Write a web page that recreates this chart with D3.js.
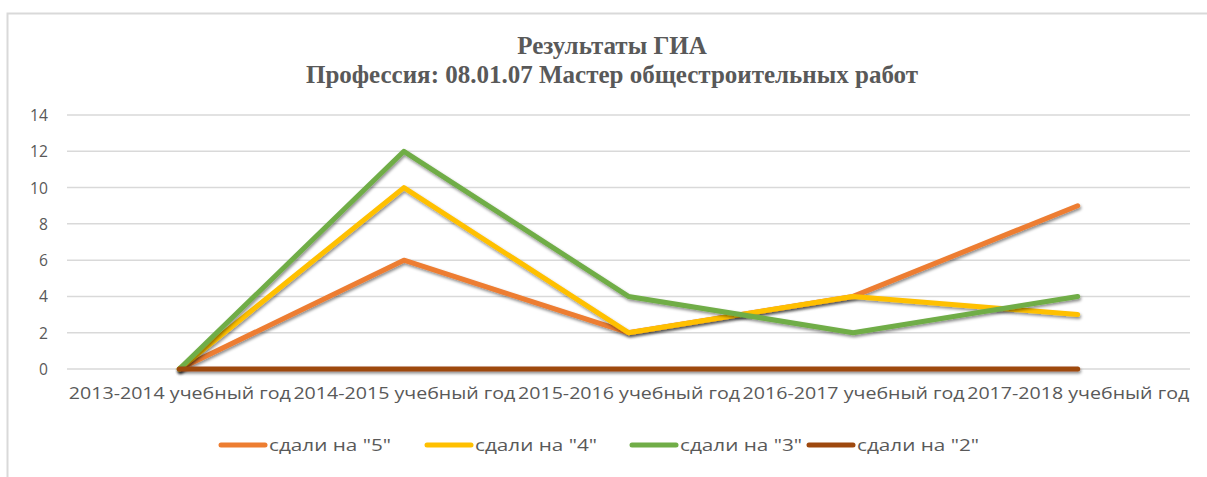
<!DOCTYPE html>
<html>
<head>
<meta charset="utf-8">
<script src="https://cdn.jsdelivr.net/npm/d3@7"></script>
<style>
  body { margin: 0; background: #fff; }
  text { fill: #595959; }
</style>
</head>
<body>
<div id="chart"></div>
<script>
var categories = ["2013-2014 учебный год", "2014-2015 учебный год", "2015-2016 учебный год",
                  "2016-2017 учебный год", "2017-2018 учебный год"];
var seriesNames = ['сдали на "5"', 'сдали на "4"', 'сдали на "3"', 'сдали на "2"'];
var grade5 = [0, 6, 2, 4, 9];
var grade4 = [0, 10, 2, 4, 3];
var grade3 = [0, 12, 4, 2, 4];
var grade2 = [0, 0, 0, 0, 0];
var yTicks = [0, 2, 4, 6, 8, 10, 12, 14];
var colors = ["#ED7D31", "#FFC000", "#70AD47", "#9E480E"];

var series = [grade5, grade4, grade3, grade2].map(function(v, i) {
  return { name: seriesNames[i], values: v, color: colors[i] };
});

var width = 1207, height = 477;

var svg = d3.select("#chart").append("svg")
  .attr("width", width)
  .attr("height", height);

// shadow like the office chart
var defs = svg.append("defs");
var f = defs.append("filter").attr("id", "shadow")
  .attr("filterUnits", "userSpaceOnUse")
  .attr("x", 0).attr("y", 0).attr("width", width).attr("height", height);
f.append("feDropShadow")
  .attr("dx", 1).attr("dy", 2).attr("stdDeviation", 1.5)
  .attr("flood-color", "#000").attr("flood-opacity", 0.45);

// chart frame
svg.append("path")
  .attr("d", "M7.5," + (height + 5) + "V13.5H" + (width + 5))
  .attr("fill", "none")
  .attr("stroke", "#d9d9d9")
  .attr("stroke-width", 2);

// title
var title = svg.append("text")
  .attr("text-anchor", "middle")
  .style("font-family", "'Liberation Serif', 'Times New Roman', serif")
  .style("font-weight", "bold")
  .style("font-size", "25px");
title.append("tspan").attr("x", 612).attr("y", 54).text("Результаты ГИА");
title.append("tspan").attr("x", 612).attr("y", 83).text("Профессия: 08.01.07 Мастер общестроительных работ");

var x0 = 67, x1 = 1190, yTop = 115, yBottom = 369;

var x = d3.scalePoint()
  .domain(categories)
  .range([x0, x1])
  .padding(0.5);

var y = d3.scaleLinear()
  .domain([0, 14])
  .range([yBottom, yTop]);

// gridlines
svg.append("g")
  .selectAll("line")
  .data(yTicks)
  .enter().append("line")
  .attr("x1", x0).attr("x2", x1)
  .attr("y1", function(d) { return y(d); })
  .attr("y2", function(d) { return y(d); })
  .attr("stroke", "#d9d9d9")
  .attr("stroke-width", 1.5);

// y axis labels
var yAxis = svg.append("g")
  .attr("transform", "translate(" + 48 + ",0)")
  .call(d3.axisLeft(y).tickValues(yTicks).tickSize(0).tickPadding(0));
yAxis.select(".domain").remove();
yAxis.selectAll("text")
  .attr("fill", "#595959")
  .style("font-family", "'Open Sans', sans-serif")
  .style("font-size", "17px")
  .attr("transform", "scale(0.92,1)")
  .attr("x", 0);

// x axis labels
var xAxis = svg.append("g")
  .attr("transform", "translate(0," + (yBottom + 18) + ")")
  .call(d3.axisBottom(x).tickSize(0).tickPadding(0));
xAxis.select(".domain").remove();
xAxis.selectAll("text")
  .attr("fill", "#595959")
  .attr("dy", "0.71em")
  .style("font-family", "'Open Sans', sans-serif")
  .style("font-size", "17px")
  .attr("textLength", 222)
  .attr("lengthAdjust", "spacingAndGlyphs");

// lines
var line = d3.line()
  .x(function(d, i) { return x(categories[i]); })
  .y(function(d) { return y(d); });

svg.append("g")
  .selectAll("path")
  .data(series)
  .enter().append("path")
  .attr("d", function(d) { return line(d.values); })
  .attr("fill", "none")
  .attr("stroke", function(d) { return d.color; })
  .attr("stroke-width", 5)
  .attr("stroke-linejoin", "round")
  .attr("stroke-linecap", "round")
  .attr("filter", "url(#shadow)");

// legend
var legendX = [219, 425, 630, 807];
var legend = svg.append("g")
  .selectAll("g")
  .data(series)
  .enter().append("g")
  .attr("transform", function(d, i) { return "translate(" + legendX[i] + ",445)"; });

legend.append("line")
  .attr("x1", 2).attr("x2", 46)
  .attr("stroke", function(d) { return d.color; })
  .attr("stroke-width", 5)
  .attr("stroke-linecap", "round");

legend.append("text")
  .attr("x", 50)
  .attr("dy", "0.35em")
  .style("font-family", "'Open Sans', sans-serif")
  .style("font-size", "17px")
  .attr("textLength", 122)
  .attr("lengthAdjust", "spacingAndGlyphs")
  .text(function(d) { return d.name; });
</script>
</body>
</html>
